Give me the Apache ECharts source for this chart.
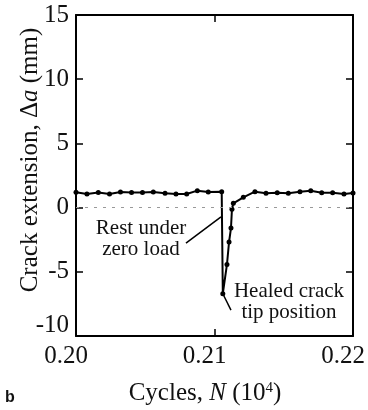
<!DOCTYPE html>
<html>
<head>
<meta charset="utf-8">
<script src="https://cdn.jsdelivr.net/npm/echarts@6/dist/echarts.min.js"></script>
<style>
  html, body { margin: 0; padding: 0; background: #fff; }
  #chart { width: 368px; height: 410px; }
</style>
</head>
<body>
<div id="chart"></div>
<script>
// cycles (10^4) and crack extension (mm)
const cycles = [
  0.2000, 0.20079, 0.20161, 0.20242, 0.20321, 0.20401, 0.20480, 0.20558,
  0.20643, 0.20722, 0.20799, 0.20876, 0.20955, 0.21052, 0.21060, 0.21090,
  0.21105, 0.21119, 0.21126, 0.21136, 0.21208, 0.21292, 0.21372, 0.21453,
  0.21533, 0.21617, 0.21695, 0.21774, 0.21853, 0.21935, 0.2200
];
const crackExt = [
  1.19, 1.06, 1.18, 1.06, 1.21, 1.18, 1.18, 1.21,
  1.11, 1.06, 1.06, 1.32, 1.21, 1.24, -6.70, -4.43,
  -2.68, -1.59, -0.13, 0.33, 0.80, 1.24, 1.11, 1.16,
  1.11, 1.24, 1.32, 1.16, 1.16, 1.06, 1.14
];
const xTicks = [0.20, 0.21, 0.22];
const yTicks = [-10, -5, 0, 5, 10, 15];

// leader lines for the two notes, in data units
const restLeader = [[0.20794, -2.76], [0.21047, -0.73]];
const healedLeader = [[0.21061, -6.73], [0.21119, -7.98]];

const serif = '"Liberation Serif", "Times New Roman", serif';
const ink = '#111';

const chart = echarts.init(document.getElementById('chart'));

const axisLine = { onZero: false, lineStyle: { color: '#000', width: 2 } };
const axisTick = { inside: true, length: 7, lineStyle: { color: '#000', width: 1.5 } };

const option = {
  backgroundColor: '#fff',
  animation: false,
  textStyle: { fontFamily: serif, color: ink },
  grid: { left: 76, right: 15, top: 15, bottom: 74 },
  xAxis: [
    {
      type: 'value',
      min: xTicks[0],
      max: xTicks[xTicks.length - 1],
      interval: 0.01,
      position: 'bottom',
      axisLine,
      axisTick,
      splitLine: { show: false },
      axisLabel: {
        formatter: (v) => '{t|' + v.toFixed(2) + '}',
        margin: 8,
        padding: [0, 20, 0, 0],
        rich: {
          t: { fontFamily: serif, fontSize: 25, color: ink },
        },
      },
    },
    {
      type: 'value',
      min: xTicks[0],
      max: xTicks[xTicks.length - 1],
      interval: 0.01,
      position: 'top',
      axisLine,
      axisTick,
      splitLine: { show: false },
      axisLabel: { show: false },
    },
  ],
  yAxis: [
    {
      type: 'value',
      min: yTicks[0],
      max: yTicks[yTicks.length - 1],
      interval: 5,
      position: 'left',
      axisLine,
      axisTick,
      splitLine: { show: false },
      axisLabel: {
        formatter: (v) => (v === -10 ? '{low|-10}' : '{t|' + v + '}'),
        margin: 7,
        rich: {
          t: { fontFamily: serif, fontSize: 25, color: ink },
          low: { fontFamily: serif, fontSize: 25, color: ink, padding: [0, 0, 22, 0] },
        },
      },
    },
    {
      type: 'value',
      min: yTicks[0],
      max: yTicks[yTicks.length - 1],
      interval: 5,
      position: 'right',
      axisLine,
      axisTick,
      splitLine: { show: false },
      axisLabel: { show: false },
    },
  ],
  series: [
    {
      type: 'line',
      data: cycles.map((c, i) => [c, crackExt[i]]),
      symbol: 'circle',
      symbolSize: 5,
      itemStyle: { color: '#000' },
      lineStyle: { color: '#000', width: 2 },
      z: 3,
      markLine: {
        silent: true,
        symbol: ['none', 'none'],
        label: { show: false },
        data: [
          [
            { xAxis: xTicks[0], yAxis: 0, lineStyle: { color: '#999', width: 1.2, type: [3, 6] } },
            { xAxis: xTicks[2], yAxis: 0 },
          ],
          [
            { coord: restLeader[0], lineStyle: { color: '#000', width: 1.5, type: 'solid' } },
            { coord: restLeader[1] },
          ],
          [
            { coord: healedLeader[0], lineStyle: { color: '#000', width: 1.5, type: 'solid' } },
            { coord: healedLeader[1] },
          ],
        ],
      },
    },
  ],
  graphic: [
    {
      type: 'text',
      x: 30,
      y: 160,
      rotation: Math.PI / 2,
      style: {
        text: 'Crack extension, \u0394{it|a} (mm)',
        font: '25px "Liberation Serif"',
        fill: ink,
        align: 'center',
        verticalAlign: 'middle',
        rich: {
          it: { fontFamily: serif, fontSize: 25, fontStyle: 'italic', fill: ink },
        },
      },
    },
    {
      type: 'text',
      x: 205,
      y: 393,
      style: {
        text: 'Cycles, {it|N} (10{sup|4})',
        font: '25px "Liberation Serif"',
        fill: ink,
        align: 'center',
        verticalAlign: 'middle',
        rich: {
          it: { fontFamily: serif, fontSize: 25, fontStyle: 'italic', fill: ink },
          sup: { fontFamily: serif, fontSize: 15, fill: ink, verticalAlign: 'top' },
        },
      },
    },
    {
      type: 'text',
      x: 141,
      y: 239,
      style: {
        text: 'Rest under\nzero load',
        font: '21px "Liberation Serif"',
        lineHeight: 21,
        fill: ink,
        align: 'center',
        verticalAlign: 'middle',
      },
    },
    {
      type: 'text',
      x: 289,
      y: 302,
      style: {
        text: 'Healed crack\ntip position',
        font: '21px "Liberation Serif"',
        lineHeight: 21,
        fill: ink,
        align: 'center',
        verticalAlign: 'middle',
      },
    },
    {
      type: 'text',
      x: 5,
      y: 398,
      style: {
        text: 'b',
        font: 'bold 16px "Liberation Sans"',
        fill: ink,
        align: 'left',
        verticalAlign: 'middle',
      },
    },
  ],
};

chart.setOption(option);
</script>
</body>
</html>
